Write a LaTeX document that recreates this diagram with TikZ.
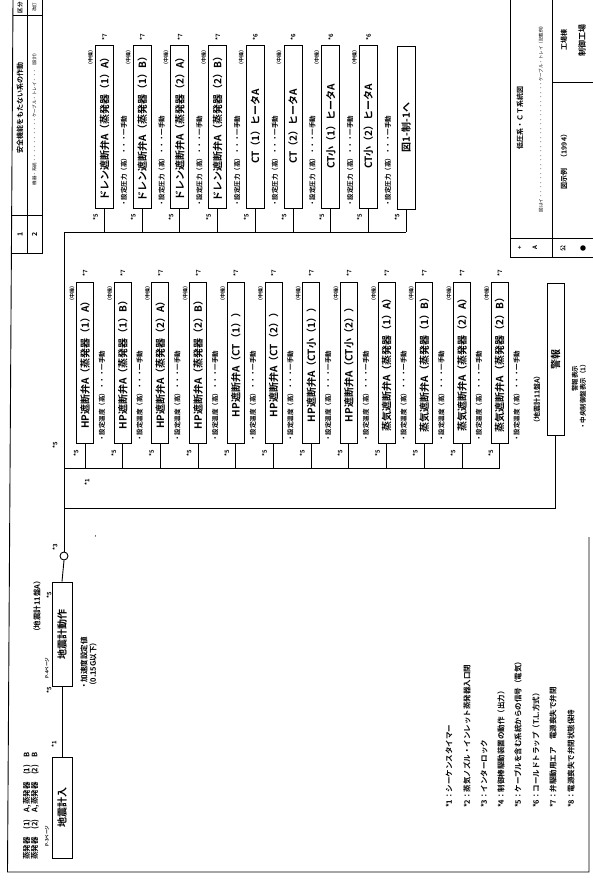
\documentclass[tikz,border=0pt]{standalone}
\usepackage{fontspec}
\setmainfont{Noto Sans CJK JP}[BoldFont={* Bold}]
\begin{document}
\begin{tikzpicture}[x=1pt,y=-1pt,
  wire/.style={line width=0.9pt},
  frameline/.style={line width=0.9pt},
  ubox/.style={draw, line width=1pt, rotate=90, minimum width=163pt, minimum height=18pt, inner sep=0pt, font=\fontsize{10}{10}\selectfont\bfseries},
  lbox/.style={draw, line width=1pt, rotate=90, minimum width=161pt, minimum height=17pt, inner sep=0pt, font=\fontsize{10}{10}\selectfont\bfseries},
  ebox/.style={draw, line width=1pt, rotate=90, minimum height=20pt, inner sep=0pt, font=\fontsize{10}{10}\selectfont\bfseries},
  mk/.style={rotate=90, inner sep=0pt, font=\fontsize{6}{6}\selectfont\bfseries},
  toplbl/.style={rotate=90, anchor=east, inner sep=0pt, font=\fontsize{5}{5}\selectfont\bfseries},
  sidetxt/.style={rotate=90, anchor=west, inner sep=0pt, font=\fontsize{6.5}{6.5}\selectfont\bfseries},
  notetxt/.style={rotate=90, anchor=west, inner sep=0pt, font=\fontsize{7.5}{8}\selectfont\bfseries},
  blocktxt/.style={rotate=90, inner sep=0pt, font=\fontsize{7}{7}\selectfont\bfseries},
  smalltxt/.style={rotate=90, inner sep=0pt, font=\fontsize{4.5}{5}\selectfont},
]
\useasboundingbox (0,0) rectangle (593,886);

% ---------- outer frame ----------
\draw[frameline] (13,0) -- (7.5,872) -- (589,872) -- (589,537);

% ---------- left title block ----------
\draw[frameline] (42,0) -- (42,253) -- (12,253);
\draw[frameline] (27,0) -- (27,253);
\draw[frameline] (13,15) -- (42,15);
\draw[frameline] (12.3,215) -- (42,215);
\node[smalltxt, font=\fontsize{5.5}{6}\selectfont\bfseries] at (20,7.5) {区分};
\node[smalltxt] at (34.5,7.5) {改訂};
\node[blocktxt] at (20,108) {安全機能をもたない系の作動};
\node[smalltxt] at (34.5,118) {機器・系統・・・・・・・・・・ケーブル・トレイ・・・（設計）};
\node[blocktxt] at (20,234) {1};
\node[blocktxt] at (34.5,234) {2};

% ---------- right title block ----------
\draw[frameline] (510,0) -- (510,257) -- (593,257);
\draw[frameline] (510,238) -- (593,238);
\draw[frameline] (552,0) -- (552,257);
\draw[frameline] (552,82) -- (593,82);
\node[blocktxt] at (520,118) {低圧系・ＣＴ系統図};
\node[smalltxt] at (541,118) {図はイ・・・・・・・・・・・・・・・・・・・・・・・・・・ケーブル・トレイ（記載例）};
\node[blocktxt] at (564,40) {工場棟};
\node[blocktxt, font=\fontsize{8}{8}\selectfont\bfseries] at (582,40) {制御工場};
\node[blocktxt] at (564,160) {図示例　（1994）};
\node[mk] at (520,248) {+};
\node[mk] at (535,248) {A};
\node[mk] at (563,248) {公};
\node[mk] at (583,248) {●};

% ---------- upper group ----------
\foreach \n/\x/\t/\m in {
  1/104.5/ドレン遮断弁A（蒸発器（1）A）/7,
  2/142.2/ドレン遮断弁A（蒸発器（1）B）/7,
  3/179.9/ドレン遮断弁A（蒸発器（2）A）/7,
  4/217.6/ドレン遮断弁A（蒸発器（2）B）/7,
  5/255.3/CT（1）ヒータA/6,
  6/293/CT（2）ヒータA/6,
  7/330.7/CT小（1）ヒータA/6,
  8/368.4/CT小（2）ヒータA/6}{
  \node[ubox] (u\n) at (\x,126.5) {\t};
  \node[mk] at (\x,37) {*\m};
  \node[toplbl] at (\x-14,47) {（中操）};
  \node[sidetxt] at (\x+19.5,207) {・設定圧力（高）・・・一手動};
  \node[mk] at (\x-9,217) {*5};
}
\node[ubox] (u9) at (406.1,127.5) {図1-制-1へ};
\node[mk] at (397,217) {*5};

% ---------- lower group ----------
\foreach \n/\x/\t in {
  1/85/HP遮断弁A（蒸発器（1）A）,
  2/122.7/HP遮断弁A（蒸発器（1）B）,
  3/160.4/HP遮断弁A（蒸発器（2）A）,
  4/198.1/HP遮断弁A（蒸発器（2）B）,
  5/235.8/HP遮断弁A（CT（1））,
  6/273.5/HP遮断弁A（CT（2））,
  7/311.2/HP遮断弁A（CT小（1））,
  8/348.9/HP遮断弁A（CT小（2））,
  9/386.6/蒸気遮断弁A（蒸発器（1）A）,
  10/424.3/蒸気遮断弁A（蒸発器（1）B）,
  11/462/蒸気遮断弁A（蒸発器（2）A）,
  12/499.7/蒸気遮断弁A（蒸発器（2）B）}{
  \node[lbox] (l\n) at (\x,362.5) {\t};
  \node[mk] at (\x,273) {*7};
  \node[toplbl] at (\x-13,283) {（中操）};
  \node[sidetxt] at (\x+17,442) {・設定温度（高）・・・一手動};
  \node[mk] at (\x-9,453) {*5};
}
\node[draw, line width=1pt, rotate=90, minimum width=152pt, minimum height=17pt, inner sep=0pt, font=\fontsize{10}{10}\selectfont\bfseries] (alarm) at (555.5,359) {警報};
\node[sidetxt, font=\fontsize{7}{7}\selectfont\bfseries] at (537,427) {（地震計11盤A）};
\node[sidetxt] at (575,392) {警報表示};
\node[sidetxt] at (583,430) {・中央制御盤表示（1）};

% ---------- seismic boxes ----------
\node[ebox, minimum width=104pt] (eq2) at (62,634) {地震計動作};
\node[ebox, minimum width=101pt] (eq1) at (62,807.5) {地震計入};
\node[draw, circle, minimum size=8pt, inner sep=0pt, line width=0.9pt] (circ) at (64,556) {};

\node[sidetxt, font=\fontsize{7.5}{8}\selectfont\bfseries] at (27,860) {蒸発器　(1)　A,蒸発器　(1)　B};
\node[sidetxt, font=\fontsize{7.5}{8}\selectfont\bfseries] at (35,860) {蒸発器　(2)　A,蒸発器　(2)　B};
\node[sidetxt, font=\fontsize{7.5}{8}\selectfont\bfseries] at (37,636) {（地震計11盤A）};
\node[sidetxt, font=\fontsize{7.5}{8}\selectfont\bfseries] at (84,690) {・加速度設定値};
\node[sidetxt, font=\fontsize{7.5}{8}\selectfont\bfseries] at (93,690) {（0.15G以下）};
\node[mk, font=\fontsize{4.5}{5}\selectfont\bfseries] at (47,836) {P-3ページ};
\node[mk, font=\fontsize{4.5}{5}\selectfont\bfseries] at (47,668) {P-4ページ};
\node[mk] at (49,595) {*5};
\node[mk] at (49,690) {*5};
\node[mk] at (54,744) {*1};
\node[mk] at (55,547) {*3};
\node[mk] at (55,445) {*5};
\node[mk] at (87,482) {*1};
\node[mk] at (96,536) {-};

% ---------- wiring ----------
\coordinate (ub) at (64,232);
\coordinate (lb) at (64,468);
\coordinate (lb2) at (64,508);
\draw[wire] (ub) -- (ub -| u9.west);
\foreach \n in {1,...,9} \draw[wire] (u\n.west) -- (u\n.west |- ub);
\draw[wire] (lb) -- (lb -| l12.west);
\foreach \n in {1,...,12} \draw[wire] (l\n.west) -- (l\n.west |- lb);
\draw[wire] (lb2) -| (alarm.west);
\draw[wire] (ub) -- (circ.north);
\draw[wire] (circ.south) -- (eq2.east);
\draw[wire] (eq2.west) -- (eq1.east);

% ---------- notes ----------
\node[notetxt] at (449,808) {*1：シーケンスタイマー};
\node[notetxt] at (467,808) {*2：蒸気ノズル・インレット蒸発器入口閉};
\node[notetxt] at (484,808) {*3：インターロック};
\node[notetxt] at (501,808) {*4：制御棒駆動装置の動作（出力）};
\node[notetxt] at (518,808) {*5：ケーブルを含む系統からの信号（電気）};
\node[notetxt] at (536,808) {*6：コールドトラップ（T.L.方式）};
\node[notetxt] at (553,808) {*7：弁駆動用エア　電源喪失で弁閉};
\node[notetxt] at (571,808) {*8：電源喪失で弁閉状態保持};
\end{tikzpicture}
\end{document}
